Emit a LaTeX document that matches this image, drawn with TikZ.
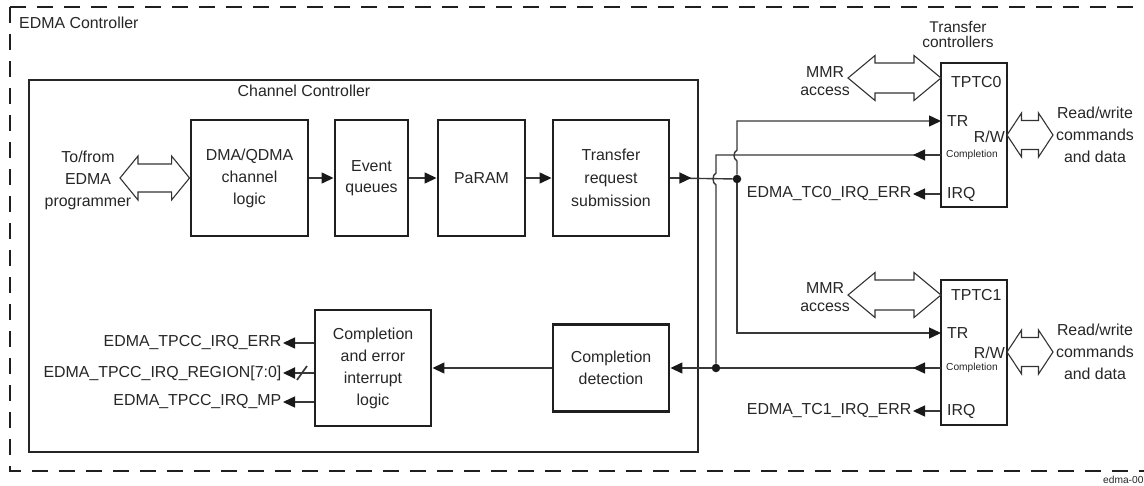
\documentclass[tikz,border=0pt]{standalone}
\usepackage{fontspec}
\setmainfont{Liberation Sans}
\usetikzlibrary{arrows.meta,calc}
\newcommand{\bidir}[5]{%
  \draw[bus] let \p1=(#1), \p2=(#2) in
   (\x1,\y1) -- (\x1+#3,\y1+#4) -- (\x1+#3,\y1+#5) -- (\x2-#3,\y2+#5) -- (\x2-#3,\y2+#4) -- (\x2,\y2)
   -- (\x2-#3,\y2-#4) -- (\x2-#3,\y2-#5) -- (\x1+#3,\y1-#5) -- (\x1+#3,\y1-#4) -- cycle;}
\tikzset{
  blk/.style={draw=black!88, line width=2.9pt, inner sep=0pt, align=center, text=black!85,
    font=\fontsize{15.9}{22}\selectfont},
  wire/.style={draw=black!78, line width=1.4pt},
  arr/.style={wire, -{Triangle[length=12pt,width=11pt,color=black!90]}},
  bus/.style={draw=black!80, line width=1.1pt, fill=white, line join=miter},
  jdot/.style={circle, fill=black!90, minimum size=8.5pt, inner sep=0pt},
  txt/.style={text=black!85, font=\fontsize{15.9}{22}\selectfont, align=center, inner sep=0pt},
  smalltxt/.style={text=black!85, font=\fontsize{10.2}{12}\selectfont, inner sep=0pt},
}
\begin{document}
\begin{tikzpicture}[x=1pt,y=-1pt]
\useasboundingbox (0,0) rectangle (1144,485);
% outer dashed EDMA controller
\draw[line width=2.8pt, black!88, dash pattern=on 16pt off 11pt] (10,7) -- (1150,7);
\draw[line width=2.8pt, black!88, dash pattern=on 16pt off 11pt] (10,7) -- (10,471) -- (1150,471);
\node[txt, anchor=west] (edmac) at (19,23) {EDMA Controller};
% channel controller
\draw[black!85, line width=1.3pt] (29,80) rectangle (698,452);
\node[txt] (cclbl) at (304,91) {Channel Controller};

% top row
\node[blk, minimum width=117, minimum height=116] (dma) at (249.5,178) {DMA/QDMA\\channel\\logic};
\node[blk, minimum width=73, minimum height=116, font=\fontsize{15.9}{21}\selectfont] (evq) at (371.5,178) {Event\\queues};
\node[blk, minimum width=87, minimum height=116] (param) at (481.5,178) {PaRAM};
\node[blk, minimum width=116, minimum height=116, font=\fontsize{15.9}{23}\selectfont] (trs) at (611,178) {Transfer\\request\\submission};
\draw[arr] (dma) -- (evq);
\draw[arr] (evq) -- (param);
\draw[arr] (param) -- (trs);

% to/from programmer
\node[txt] (tofrom) at (88,180) {To/from\\EDMA\\programmer};
\coordinate (tfl) at (120,178);
\bidir{tfl}{dma.west}{18pt}{22pt}{14pt}

% bottom row
\node[blk, minimum width=116, minimum height=116] (ced) at (373,368) {Completion\\and error\\interrupt\\logic};
\node[blk, minimum width=116, minimum height=87] (cd) at (611,368) {Completion\\detection};
\draw[arr] (cd) -- (ced);

\node[txt, anchor=east, inner sep=1.5pt] (oerr) at (283,343) {EDMA\_TPCC\_IRQ\_ERR};
\node[txt, anchor=east, inner sep=1.5pt] (oreg) at (283,373) {EDMA\_TPCC\_IRQ\_REGION[7:0]};
\node[txt, anchor=east, inner sep=1.5pt] (omp) at (283,402) {EDMA\_TPCC\_IRQ\_MP};
\draw[arr] (oerr.east -| ced.west) -- (oerr.east);
\draw[arr, line width=1.9pt] (oreg.east -| ced.west) -- (oreg.east);
\draw[wire, line width=1.7pt] (297,380) -- (307,366);
\draw[arr] (omp.east -| ced.west) -- (omp.east);

% transfer controllers
\node[txt, font=\fontsize{15.5}{15}\selectfont] (tclbl) at (958,34) {Transfer\\controllers};
\node[blk, minimum width=66, minimum height=144] (tptc0) at (974,135) {};
\node[blk, minimum width=66, minimum height=145] (tptc1) at (974,352.5) {};

\node[txt, anchor=west] at (951,82) {TPTC0};
\node[txt, anchor=west] at (947,121) {TR};
\node[txt, anchor=east] at (1005,137) {R/W};
\node[smalltxt, anchor=west] at (946,155) {Completion};
\node[txt, anchor=west] at (947,194) {IRQ};

\node[txt, anchor=west] at (951,295) {TPTC1};
\node[txt, anchor=west] at (947,333) {TR};
\node[txt, anchor=east] at (1005,353) {R/W};
\node[smalltxt, anchor=west] at (946,368) {Completion};
\node[txt, anchor=west] at (947,411) {IRQ};

% MMR access
\node[txt, font=\fontsize{15.9}{18}\selectfont] (mmr0) at (825,81) {MMR\\access};
\coordinate (mmr0l) at (848,78);
\coordinate (mmr0r) at (941,78);
\bidir{mmr0l}{mmr0r}{27pt}{22.5pt}{15pt}
\node[txt, font=\fontsize{15.9}{18}\selectfont] (mmr1) at (825,297) {MMR\\access};
\coordinate (mmr1l) at (848,295);
\coordinate (mmr1r) at (941,295);
\bidir{mmr1l}{mmr1r}{27pt}{22.5pt}{15pt}

% read/write
\node[txt] (rw0) at (1095,135) {Read/write\\commands\\and data};
\coordinate (rw0l) at (1007,135);
\coordinate (rw0r) at (1053,135);
\bidir{rw0l}{rw0r}{14.5pt}{22pt}{14.5pt}
\node[txt] (rw1) at (1095,352) {Read/write\\commands\\and data};
\coordinate (rw1l) at (1007,352);
\coordinate (rw1r) at (1053,352);
\bidir{rw1l}{rw1r}{14.5pt}{22pt}{14.5pt}

% IRQ outputs
\node[txt, anchor=east, inner sep=1.5pt] (irq0) at (913,194) {EDMA\_TC0\_IRQ\_ERR};
\node[txt, anchor=east, inner sep=1.5pt] (irq1) at (913,411) {EDMA\_TC1\_IRQ\_ERR};
\draw[arr] (irq0.east -| tptc0.west) -- (irq0.east);
\draw[arr] (irq1.east -| tptc1.west) -- (irq1.east);

% wiring
\coordinate (tr0) at (941,121);
\coordinate (tr1) at (941,333);
\coordinate (cp0) at (941,155);
\coordinate (cp1) at (941,368);
\node[jdot] (dot1) at (737,179) {};
\node[jdot] (dot2) at (716,368) {};

\draw[wire] (trs.east) -- (dot1);
\draw[arr] (trs.east) -- ++(21,0);
\draw[arr] (dot1) -- (737,161) .. controls (733,159) and (733,152) .. (737,150) |- (tr0);
\draw[arr] (dot1) |- (tr1);

\draw[wire] (cp0) -- (716,155) -- (716,173) .. controls (712,175) and (712,183) .. (716,185) -- (dot2);
\draw[arr] (cp0) -- ++(-28,0);
\draw[wire] (cp1) -- (dot2);
\draw[arr] (cp1) -- ++(-28,0);
\draw[arr] (dot2) -- (cd.east);

\node[smalltxt, anchor=west] (fig) at (1103,480) {edma-00};
\end{tikzpicture}
\end{document}
